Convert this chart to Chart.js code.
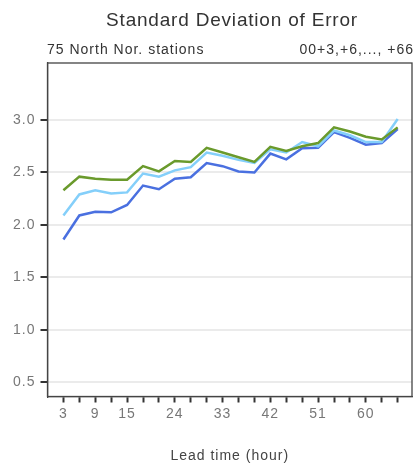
<!DOCTYPE html>
<html>
<head>
<meta charset="utf-8">
<script src="https://cdn.jsdelivr.net/npm/chart.js@4/dist/chart.umd.min.js"></script>
<style>
html,body{margin:0;padding:0;background:#fff;}
#wrap{position:relative;width:414px;height:466px;}
</style>
</head>
<body>
<div id="wrap"><canvas id="c" width="414" height="466"></canvas></div>
<script>
const leadHours = [3,6,9,12,15,18,21,24,27,30,33,36,39,42,45,48,51,54,57,60,63,66];
const xTickLabels = [3,9,15,24,33,42,51,60];
const yTickValues = [0.5,1.0,1.5,2.0,2.5,3.0];
const seriesGreen = [2.33,2.46,2.44,2.43,2.43,2.56,2.51,2.61,2.60,2.735,2.69,2.645,2.60,2.745,2.705,2.75,2.78,2.93,2.89,2.84,2.815,2.93];
const seriesLightBlue = [2.09,2.29,2.33,2.30,2.31,2.49,2.46,2.52,2.55,2.69,2.66,2.62,2.59,2.72,2.69,2.79,2.75,2.90,2.855,2.79,2.79,3.01];
const seriesBlue = [1.86,2.09,2.125,2.12,2.19,2.375,2.34,2.44,2.455,2.59,2.56,2.51,2.50,2.68,2.625,2.73,2.735,2.885,2.83,2.765,2.78,2.915];
const titleText = "Standard Deviation of Error";
const subLeft = "75 North Nor. stations";
const subRight = "00+3,+6,..., +66";
const xTitle = "Lead time (hour)";

const FONT = "'Liberation Sans', Arial, sans-serif";

const toPts = arr => arr.map((v,i)=>({x:leadHours[i], y:v}));

const spacingPlugin = {
  id:'spacing',
  beforeDraw(chart){ chart.ctx.letterSpacing = '1px'; }
};

const headerPlugin = {
  id:'header',
  afterDraw(chart){
    const ctx = chart.ctx, a = chart.chartArea;
    ctx.save();
    ctx.strokeStyle = '#444';
    ctx.lineWidth = 1.3;
    ctx.strokeRect(a.left, a.top, a.right - a.left, a.bottom - a.top);
    ctx.fillStyle = '#333';
    ctx.letterSpacing = '0.8px';
    ctx.font = "19px " + FONT;
    ctx.textAlign = 'center';
    ctx.textBaseline = 'middle';
    ctx.fillText(titleText, 232, 21);
    ctx.letterSpacing = '1px';
    ctx.font = "14px " + FONT;
    ctx.textAlign = 'left';
    ctx.fillText(subLeft, 47, 50);
    ctx.textAlign = 'right';
    ctx.fillText(subRight, 414, 50);
    ctx.restore();
  }
};

new Chart(document.getElementById('c'), {
  type:'line',
  data:{
    datasets:[
      {data:toPts(seriesGreen), borderColor:'#6a9a2c', borderWidth:2.5},
      {data:toPts(seriesLightBlue), borderColor:'#84cffa', borderWidth:2.5},
      {data:toPts(seriesBlue), borderColor:'#4a70e0', borderWidth:2.5}
    ]
  },
  options:{
    responsive:false,
    animation:false,
    devicePixelRatio:1,
    layout:{padding:{top:63, right:2, left:0, bottom:0}},
    elements:{point:{radius:0}, line:{tension:0}},
    plugins:{legend:{display:false}, tooltip:{enabled:false}, title:{display:false}},
    scales:{
      x:{
        type:'linear', min:0, max:68.7,
        afterBuildTicks(s){ s.ticks = leadHours.map(v=>({value:v})); },
        afterFit(s){ s.height = 69.5; },
        grid:{drawOnChartArea:false, drawTicks:true, tickLength:6, tickColor:'#333', tickWidth:2},
        border:{display:true, color:'#444', width:1.3},
        ticks:{
          autoSkip:false, maxRotation:0, padding:3,
          color:'#777', font:{family:FONT, size:14},
          callback:(v)=> xTickLabels.includes(v) ? String(v) : ''
        },
        title:{display:true, text:xTitle, color:'#444', font:{family:FONT, size:14}, padding:{top:0,bottom:1}}
      },
      y:{
        type:'linear', min:0.363, max:3.544,
        afterBuildTicks(s){ s.ticks = yTickValues.map(v=>({value:v})); },
        afterFit(s){ s.width = 47.5; },
        grid:{color:'#ebebeb', lineWidth:2, drawTicks:true, tickLength:7, tickColor:'#333', tickWidth:2},
        border:{display:true, color:'#444', width:1.3},
        ticks:{padding:5, color:'#777', font:{family:FONT, size:14}, callback:(v)=>Number(v).toFixed(1)}
      }
    }
  },
  plugins:[spacingPlugin, headerPlugin]
});
</script>
</body>
</html>
